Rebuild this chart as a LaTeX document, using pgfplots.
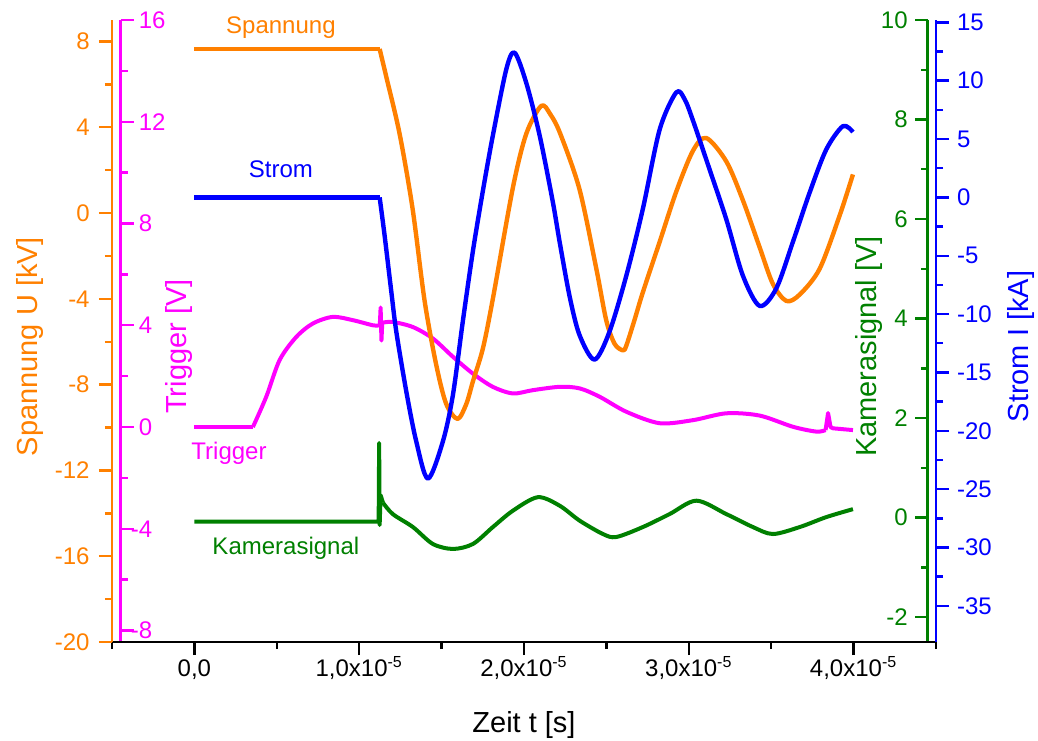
\documentclass[border=0pt]{standalone}
\usepackage{fontspec}
\setmainfont{Liberation Sans}
\usepackage{xcolor}
\usepackage{pgfplots}
\pgfplotsset{compat=1.18}
\definecolor{cOr}{HTML}{FF8000}
\definecolor{cMa}{HTML}{FF00FF}
\definecolor{cGr}{HTML}{008000}
\definecolor{cBl}{HTML}{0000FF}

\pgfplotsset{
  base/.style={scale only axis, width=412pt, height=311pt,
    at={(0,0)}, anchor=south west, xmin=-0.5, xmax=4.5,
    clip mode=individual,
    major tick length=6.5pt, minor tick length=3.5pt,
    tick label style={font=\fontsize{12}{14}\selectfont, inner sep=0pt},
    label style={font=\fontsize{14.5}{17}\selectfont},
    /pgf/number format/assume math mode=true,
    every axis plot/.append style={line width=2pt, line join=round, mark=none},
  },
  nox/.style={axis x line=none, xtick=\empty},
}
\tikzset{lbl/.style={font=\fontsize{12}{14}\selectfont}}

\begin{document}
\begin{tikzpicture}
\path[use as bounding box] (-56pt,-49pt) rectangle (463pt,321pt);

% Trigger (magenta), axis line just inside the left edge
\begin{axis}[base, nox, at={(4.25pt,0)}, width=407.75pt, xmin=-0.4484,
  axis y line*=left, ymin=-8.45, ymax=16,
  ytick={-8,-4,0,4,8,12,16}, yticklabels={\llap{-}8,\llap{-}4,0,4,8,12,16},
  minor y tick num=1, tick align=inside,
  y axis line style={cMa, line width=1.2pt}, y tick style={cMa, line width=1.2pt},
  yticklabel style={cMa, anchor=west, xshift=9pt},
  ylabel={Trigger [V]},
  ylabel style={cMa, at={(axis description cs:0.0717,0.475)}, anchor=center}]
\addplot[cMa] coordinates {(0,0) (0.355,0)};
\addplot[cMa, smooth] coordinates {
(0.355,0) (0.436,1.19) (0.517,2.63) (0.618,3.54) (0.719,4.07) (0.840,4.33)
(0.962,4.2) (1.083,4.0) (1.125,4.0)};
\addplot[cMa] coordinates {(1.125,4.0) (1.13,4.7) (1.135,3.4) (1.14,4.1)};
\addplot[cMa, smooth] coordinates {
(1.14,4.1) (1.204,4.13) (1.326,3.93) (1.447,3.48) (1.569,2.76) (1.690,2.1)
(1.811,1.58) (1.933,1.32) (2.054,1.45) (2.216,1.58) (2.337,1.52) (2.459,1.19)
(2.621,0.6) (2.823,0.15) (3.025,0.27) (3.228,0.54) (3.430,0.45) (3.632,0.01)
(3.774,-0.18) (3.83,-0.12)};
\addplot[cMa] coordinates {(3.83,-0.12) (3.845,0.55) (3.86,0.0) (3.875,-0.05) (3.996,-0.12)};
\node[cMa, lbl] at (axis cs:0.21,-1.02) {Trigger};
\end{axis}

% Kamerasignal (green), axis line just inside the right edge
\begin{axis}[base, nox, width=407.75pt, xmax=4.4484,
  axis y line*=right, ymin=-2.5, ymax=10,
  ytick={-2,0,...,10}, minor y tick num=1, tick align=inside,
  y axis line style={cGr, line width=1.2pt}, y tick style={cGr, line width=1.2pt},
  yticklabel style={cGr, anchor=east, xshift=-9.75pt},
  ylabel={Kamerasignal [V]},
  ylabel style={cGr, at={(axis description cs:0.9283,0.475)}, anchor=center}]
\addplot[cGr] coordinates {
(0,-0.08) (0.5,-0.08) (1.0,-0.08) (1.118,-0.08) (1.121,1.5) (1.124,-0.15) (1.13,0.45)
(1.144,0.3)};
\addplot[cGr, smooth] coordinates {
(1.144,0.3) (1.204,0.07) (1.326,-0.19) (1.447,-0.53) (1.569,-0.63) (1.690,-0.53)
(1.811,-0.19) (1.933,0.14) (2.084,0.41) (2.216,0.24) (2.337,-0.06) (2.479,-0.33)
(2.560,-0.39) (2.721,-0.19) (2.883,0.07) (3.046,0.34) (3.228,0.07) (3.389,-0.19)
(3.510,-0.33) (3.673,-0.19) (3.834,0.01) (3.996,0.17)};
\node[cGr, lbl] at (axis cs:0.555,-0.62) {Kamerasignal};
\end{axis}

% Spannung (orange) with the time axis
\begin{axis}[base, axis x line*=bottom, axis y line*=left,
  ymin=-20, ymax=9, ytick={-20,-16,...,8}, minor y tick num=1,
  xtick={0,1,2,3,4},
  xticklabels={{0,0},{1,0x10\textsuperscript{-5}},{2,0x10\textsuperscript{-5}},
    {3,0x10\textsuperscript{-5}},{4,0x10\textsuperscript{-5}}},
  minor xtick={-0.5,0.5,1.5,2.5,3.5,4.5}, tick align=outside,
  x axis line style={black, line width=1.2pt}, x tick style={black, line width=1.2pt},
  y axis line style={cOr, line width=1.2pt}, y tick style={cOr, line width=1.2pt},
  yticklabel style={cOr, anchor=east, xshift=-4.5pt},
  xticklabel style={anchor=base, yshift=-10.5pt},
  xlabel={Zeit t [s]},
  xlabel style={at={(axis description cs:0.5,0)}, anchor=base, yshift=-45pt},
  ylabel={Spannung U [kV]},
  ylabel style={cOr, at={(axis description cs:-0.0995,0.475)}, anchor=center}]
\addplot[cOr, line width=2.2pt] coordinates {(0,7.65) (1.124,7.65)};
\addplot[cOr, line width=2.2pt, smooth] coordinates {
(1.124,7.65) (1.166,6.3) (1.245,3.7)
(1.324,0.2) (1.397,-4.1) (1.468,-7.1) (1.528,-8.9) (1.597,-9.6) (1.650,-8.9)
(1.690,-7.85) (1.751,-6.3) (1.811,-4.0) (1.933,1.2) (2.014,3.7) (2.105,5.0)
(2.160,4.6) (2.220,3.7) (2.337,1.1) (2.439,-2.6) (2.499,-5.0) (2.550,-6.1)
(2.600,-6.4) (2.620,-6.2) (2.670,-5.0) (2.721,-3.7) (2.825,-1.3) (2.924,1.0)
(3.025,2.9) (3.106,3.5)
(3.228,2.4) (3.328,0.6) (3.430,-1.6) (3.510,-3.3) (3.592,-4.1) (3.673,-3.8)
(3.794,-2.6) (3.916,-0.1) (3.996,1.8)};
\node[cOr, lbl] at (axis cs:0.525,8.64) {Spannung};
\end{axis}

% Strom (blue)
\begin{axis}[base, nox, axis y line*=right,
  ymin=-38.1, ymax=15.2, ytick={-35,-30,...,15}, minor y tick num=1,
  tick align=outside,
  y axis line style={cBl, line width=1.2pt}, y tick style={cBl, line width=1.2pt},
  yticklabel style={cBl, anchor=west, xshift=3.85pt},
  ylabel={Strom I [kA]},
  ylabel style={cBl, at={(axis description cs:1.1032,0.475)}, anchor=center}]
\addplot[cBl, line width=2.2pt] coordinates {(0,0) (1.124,0)};
\addplot[cBl, line width=2.2pt, smooth] coordinates {
(1.124,0) (1.154,-3.25) (1.195,-8.1) (1.225,-11.5)
(1.286,-16.65) (1.346,-20.9) (1.417,-24.1) (1.508,-20.9) (1.569,-16.9) (1.629,-10.6)
(1.690,-4.6) (1.751,0.6) (1.811,5.3) (1.893,11.0) (1.943,12.4) (2.014,9.8)
(2.095,5.3) (2.175,-0.4) (2.216,-3.8) (2.277,-8.5) (2.337,-11.8) (2.428,-13.9)
(2.519,-11.5) (2.621,-6.7) (2.721,-1.0) (2.823,5.8) (2.924,9.0) (2.975,8.4)
(3.025,6.6) (3.126,2.4) (3.228,-1.9) (3.328,-6.7) (3.430,-9.3) (3.531,-7.8)
(3.632,-3.8) (3.733,0.4) (3.834,4.1) (3.935,6.1) (3.996,5.6)};
\node[cBl, lbl] at (axis cs:0.525,2.39) {Strom};
\end{axis}
\end{tikzpicture}
\end{document}
